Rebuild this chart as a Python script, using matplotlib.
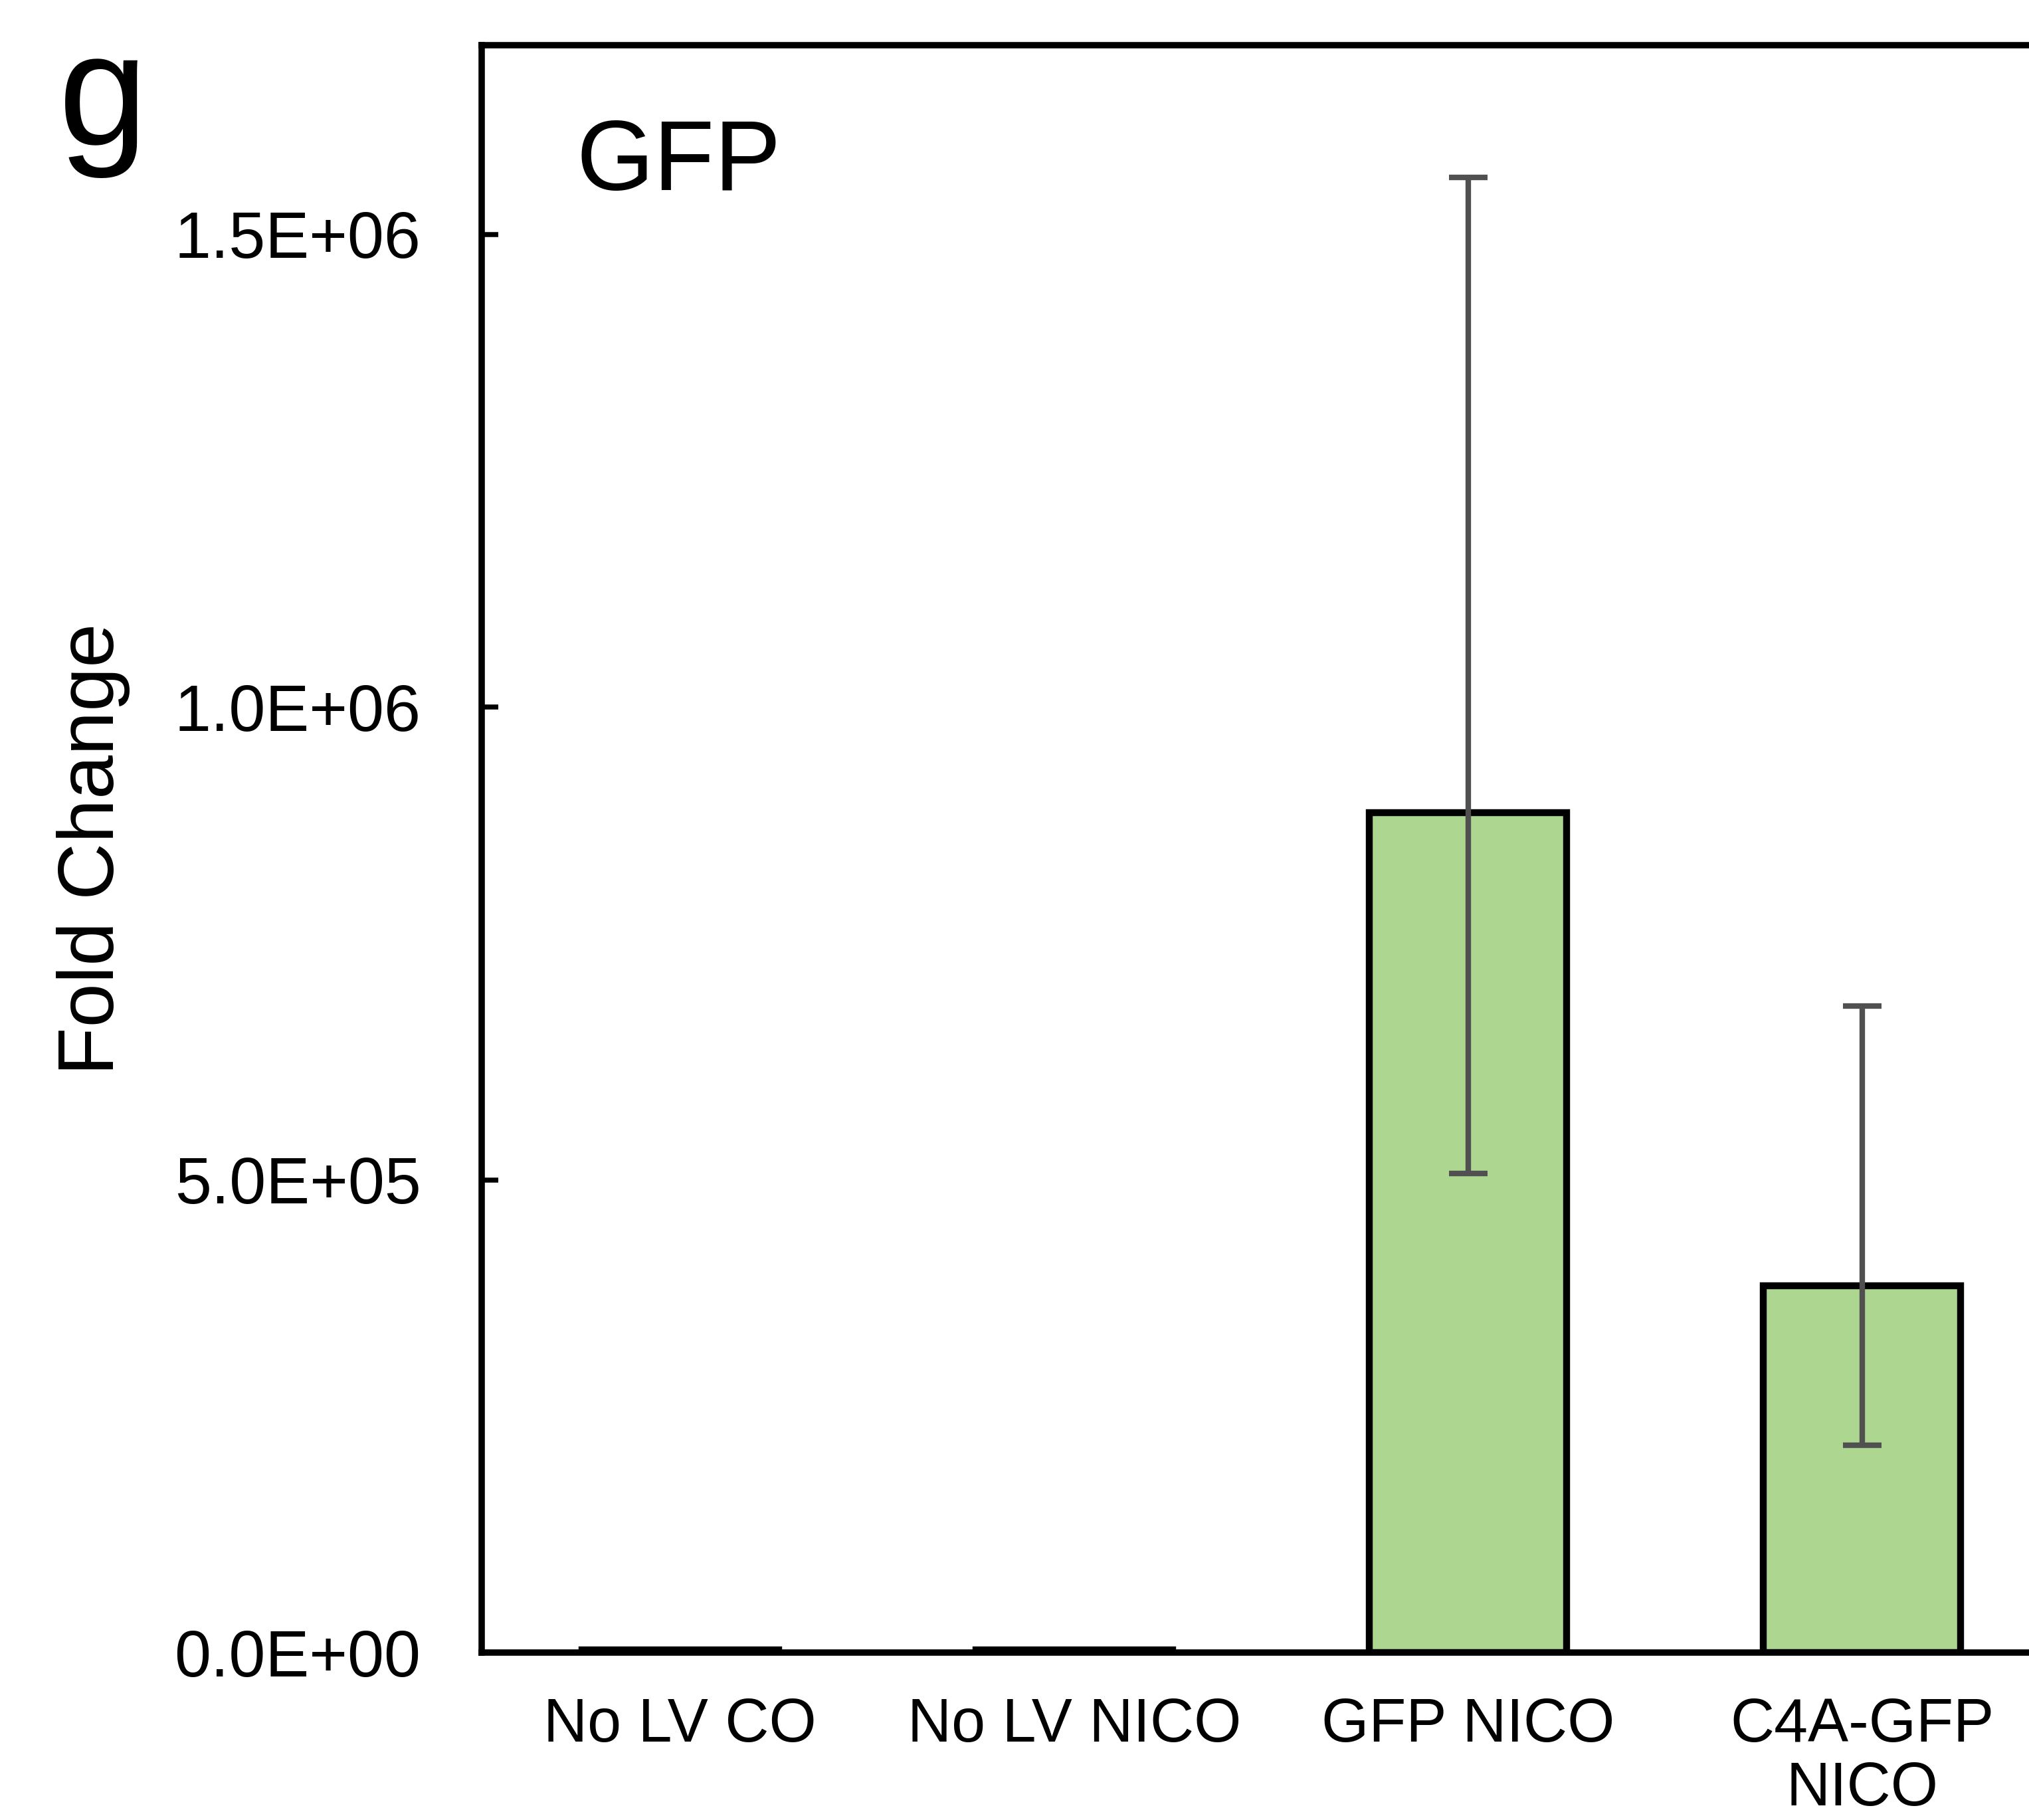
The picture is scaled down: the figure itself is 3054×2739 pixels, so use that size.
import numpy as np
import matplotlib
matplotlib.use("Agg")
import matplotlib.pyplot as plt
from matplotlib.ticker import FuncFormatter

plt.rcParams['font.family'] = ['Liberation Sans', 'DejaVu Sans']

# data
groups = ["No LV CO", "No LV NICO", "GFP NICO", "C4A-GFP\nNICO"]
fold_change = [3.0e3, 3.0e3, 8.88e5, 3.88e5]
err_low = [0, 0, 3.81e5, 1.69e5]
err_high = [0, 0, 6.72e5, 2.96e5]
yticks = [0, 5e5, 1e6, 1.5e6]

fig = plt.figure(figsize=(3054 / 300, 2739 / 300), dpi=300)
ax = fig.add_axes([0.2374, 0.0920, 0.7626, 0.8832])

x = np.arange(len(groups))
ax.bar(x, fold_change, width=0.5, color="#ADD690", edgecolor="black",
       linewidth=2.5, zorder=2)
# error bars only where there is spread
has_err = [i for i in x if err_high[i] > 0]
ax.errorbar(x[has_err], np.array(fold_change)[has_err],
            yerr=[np.array(err_low)[has_err], np.array(err_high)[has_err]],
            fmt="none", ecolor="#505050", elinewidth=2.0, capsize=7,
            capthick=2.0, zorder=3)

ax.set_xlim(-0.504, 3.424)
ax.set_ylim(0, 1.7e6)
ax.set_yticks(yticks)
ax.yaxis.set_major_formatter(FuncFormatter(lambda v, p: f"{v:.1E}"))
ax.set_xticks(x)
ax.set_xticklabels(groups, linespacing=1.15)
ax.tick_params(axis="y", direction="in", length=6, width=1.8, pad=22,
               labelsize=23.7)
ax.tick_params(axis="x", length=0, pad=16, labelsize=22)

for s in ["left", "bottom", "top"]:
    ax.spines[s].set_linewidth(2.3)
ax.spines["right"].set_visible(False)

ax.set_ylabel("Fold Change", fontsize=28.5, labelpad=16)

ax.text(0.061, 0.910, "GFP", transform=ax.transAxes, fontsize=36,
        ha="left", va="baseline")
fig.text(88 / 3054, 1 - 218 / 2739, "g", fontsize=58, ha="left",
         va="baseline")

fig.savefig("out.png", dpi=300)
